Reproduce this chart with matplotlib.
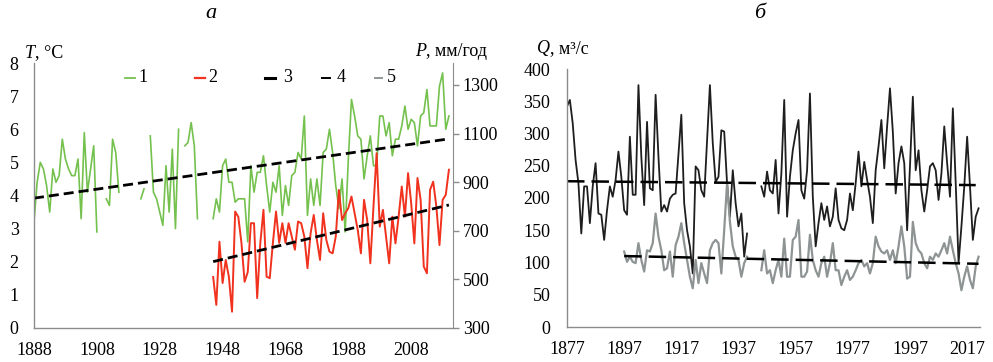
import numpy as np
import matplotlib
matplotlib.use("Agg")
import matplotlib.pyplot as plt
from matplotlib.lines import Line2D

plt.rcParams['font.family'] = ['Liberation Serif', 'DejaVu Serif']

nan = np.nan

# ---- panel a: air temperature (T) and precipitation (P) ----
t_start = 1888
temp = [3.2, 4.4, 5.0, 4.8, 4.3, 3.5, 4.8, 4.4, 4.6, 5.7,
        5.1, 4.8, 4.6, 4.6, 5.1, 3.3, 5.9, 4.1, 4.8, 5.5,
        2.9, nan, nan, 3.9, 3.7, 5.7, 5.3, 4.1, nan, nan,
        nan, nan, nan, nan, 3.9, 4.2, nan, 5.8, 4.1, 3.9,
        3.5, 3.1, 4.9, 3.5, 5.4, 3.0, 6.0, nan, 5.5, 5.6,
        6.2, 5.5, 3.3, nan, nan, nan, nan,
        3.3, 3.9, 3.5, 4.9, 5.1, 4.4, 4.4, 3.8, 3.9, 3.9,
        3.9, 2.6, 4.9, 4.1, 4.7, 4.7, 5.2, 4.3, 3.5, 4.4,
        4.1, 4.9, 3.4, 4.3, 3.7, 4.6, 4.7, 5.3, 5.1, 6.4,
        3.4, 4.5, 3.7, 4.5, 3.7, 5.3, 5.4, 6.0, 5.3, 4.3,
        3.6, 4.5, 2.9, 5.1, 6.9, 6.4, 5.8, 5.7, 4.5, 5.2,
        5.8, 4.9, 4.9, 6.4, 6.4, 5.8, 6.2, 5.2, 5.7, 5.7,
        6.1, 6.7, 6.0, 6.3, 6.2, 5.5, 6.4, 6.5, 7.2, 6.1,
        6.1, 6.1, 7.3, 7.7, 6.0, 6.4]

p_start = 1945
precip = [510, 395, 655, 485, 580, 510, 367, 779, 757, 650,
          490, 530, 731, 731, 423, 650, 786, 511, 505, 650,
          779, 650, 731, 650, 731, 676, 622, 738, 731, 676,
          546, 690, 765, 662, 580, 772, 662, 614, 607, 676,
          868, 744, 772, 793, 841, 772, 703, 607, 827, 744,
          566, 800, 1019, 717, 786, 676, 566, 758, 648, 758,
          882, 758, 937, 813, 648, 917, 827, 553, 525, 868,
          902, 800, 641, 827, 848, 951]

trend_t_years = [1888, 2020]
trend_t = [3.92, 5.71]
trend_p_years = [1945, 2020]
trend_p = [573, 806]

# ---- panel b: river discharge (Q) ----
q_start = 1877
q_main = [342, 352, 316, 259, 223, 145, 218, 218, 161, 218,
          254, 176, 174, 135, 181, 218, 202, 228, 272, 233,
          181, 174, 295, 205, 205, 375, 264, 189, 318, 215,
          212, 360, 264, 179, 189, 179, 199, 205, 207, 269,
          329, 192, 150, 125, 83, 249, 243, 212, 202, 290,
          375, 285, 225, 233, 305, 303, 223, 171, 243, 192,
          156, 176, 109, 145, nan, nan, nan, nan,
          218, 202, 241, 212, 207, 259, 176, 238, 352, 171,
          233, 274, 300, 321, 212, 199, 243, 362, 202, 125,
          161, 192, 166, 187, 156, 171, 215, 166, 153, 150,
          166, 207, 181, 223, 272, 218, 256, 228, 202, 161,
          243, 280, 321, 246, 311, 370, 303, 207, 254, 280,
          254, 150, 249, 357, 243, 274, 212, 179, 212, 249,
          254, 243, 197, 238, 311, 254, 202, 339, 223, 99,
          156, 218, 295, 218, 135, 171, 184]

q2_start = 1897
q_second = [117, 101, 109, 101, 99, 130, 104, 86, 119, 117,
            130, 176, 140, 119, 88, 91, 117, 78, 127, 140,
            161, 130, 104, 78, 60, 104, 68, 99, 83, 68,
            119, 130, 135, 130, 83, 150, 223, 163, 125, 109,
            104, 78, 99, 109, nan, nan, nan, nan,
            88, 119, 83, 88, 68, 88, 104, 78, 137, 78,
            78, 135, 140, 166, 78, 78, 86, 143, 104, 88,
            78, 99, 109, 78, 99, 130, 88, 88, 65, 78,
            88, 73, 78, 88, 99, 104, 94, 99, 83, 99,
            140, 125, 117, 114, 119, 104, 119, 99, 125, 156,
            125, 75, 78, 163, 130, 119, 114, 99, 91, 109,
            104, 114, 109, 119, 130, 114, 140, 119, 99, 83,
            57, 78, 94, 73, 60, 94, 109]

trend_q_years = [1877, 2020]
trend_q = [226, 220]
trend_q2_years = [1897, 2021]
trend_q2 = [110, 98]

legend_labels = ['1', '2', '3', '4', '5']

GREEN = '#74c14e'
RED = '#f0321e'
SPINE = '#8c8c8c'
FS = 13

W, H = 993, 362
fig = plt.figure(figsize=(W / 100, H / 100), dpi=100)


def fx(px):
    return px / W


def fy(py):
    return 1 - py / H


def style_axis(ax, pad_y, pad_x):
    for side in ['top', 'right']:
        ax.spines[side].set_visible(False)
    for side in ['left', 'bottom']:
        ax.spines[side].set_color(SPINE)
        ax.spines[side].set_linewidth(1.0)
    ax.tick_params(axis='y', length=0, pad=pad_y, labelsize=FS)
    ax.tick_params(axis='x', length=0, pad=pad_x, labelsize=FS)


def unit_label(x, y, letter, rest):
    t = fig.text(fx(x), fy(y), letter, style='italic', fontsize=FS,
                 ha='left', va='center')
    fig.canvas.draw()
    ann = plt.annotate(rest, xy=(1, 0.5), xycoords=t, fontsize=FS,
                       ha='left', va='center', annotation_clip=False)
    return t, ann


# ---------- panel a ----------
ax1 = fig.add_axes([fx(34), fy(328), fx(453 - 34), (328 - 63) / H])
ax1.plot(np.arange(t_start, t_start + len(temp)), temp, color=GREEN, lw=1.2)
ax1.plot(trend_t_years, trend_t, color='black', lw=2.0, dashes=(3.6, 1.8))
ax1.set_xlim(1888, 2021.3)
ax1.set_ylim(0, 8)
ax1.set_yticks(range(0, 9))
ax1.set_xticks(range(1888, 2009, 20))
style_axis(ax1, 11, 10)

ax1r = ax1.twinx()
ax1r.plot(np.arange(p_start, p_start + len(precip)), precip, color=RED, lw=1.4)
ax1r.plot(trend_p_years, trend_p, color='black', lw=2.0, dashes=(3.6, 1.8))
ax1r.set_ylim(300, 1390)
ax1r.set_yticks(range(300, 1301, 200))
for side in ['top', 'left', 'bottom']:
    ax1r.spines[side].set_visible(False)
ax1r.spines['right'].set_color(SPINE)
ax1r.tick_params(axis='y', length=4, width=1, color=SPINE, direction='out',
                 pad=3, labelsize=FS)

# ---------- panel b ----------
ax2 = fig.add_axes([fx(567), fy(327), fx(980 - 567), (327 - 69) / H])
ax2.plot(np.arange(q_start, q_start + len(q_main)), q_main,
         color='#1e1e1e', lw=1.3)
ax2.plot(np.arange(q2_start, q2_start + len(q_second)), q_second,
         color='#8e9494', lw=1.6)
ax2.plot(trend_q_years, trend_q, color='black', lw=1.8, dashes=(7, 2.8))
ax2.plot(trend_q2_years, trend_q2, color='black', lw=1.8, dashes=(7, 2.8))
ax2.set_xlim(1877, 2021.5)
ax2.set_ylim(0, 400)
ax2.set_yticks(range(0, 401, 50))
ax2.set_xticks(range(1877, 2018, 20))
style_axis(ax2, 12, 10)

# ---------- texts ----------
fig.text(fx(211), fy(14), 'а', style='italic', fontsize=16,
         ha='center', va='center')
fig.text(fx(760), fy(14), 'б', style='italic', fontsize=16,
         ha='center', va='center')

unit_label(25, 53, 'T', ', °C')
unit_label(415, 52, 'P', ', мм/год')
unit_label(537, 49, 'Q', ', м³/с')

# legend (panel a top)
leg_x = [125, 195, 265, 322, 375]
leg_len = [10, 10, 10, 8, 7]
leg_gap = [3, 3, 8, 7, 5]
leg_col = [GREEN, RED, 'black', 'black', '#8e9494']
leg_lw = [1.3, 1.6, 2.2, 1.4, 1.4]
leg_y = 78
for x0, ln, gp, c, lw, lab in zip(leg_x, leg_len, leg_gap, leg_col,
                                  leg_lw, legend_labels):
    fig.add_artist(Line2D([fx(x0), fx(x0 + ln)], [fy(leg_y), fy(leg_y)],
                          transform=fig.transFigure, color=c, lw=lw))
    fig.text(fx(x0 + ln + gp), fy(leg_y), lab, fontsize=FS,
             ha='left', va='center')

fig.savefig('out.png', dpi=100)
